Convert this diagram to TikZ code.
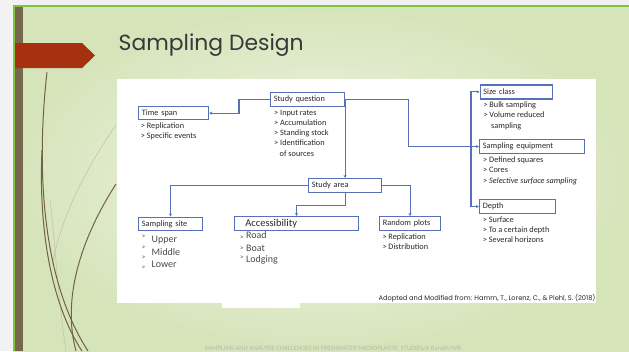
\documentclass[tikz,border=0pt]{standalone}
\usepackage{fontspec}
\setmainfont{Carlito}
\newfontfamily\titlefont{Poppins}
\usetikzlibrary{arrows.meta}
\definecolor{boxblue}{RGB}{86,112,186}
\definecolor{txt}{RGB}{40,40,40}
\definecolor{graytxt}{RGB}{75,75,75}
\definecolor{borderg}{RGB}{128,194,66}
\definecolor{barbrown}{RGB}{118,104,76}
\definecolor{arrowred}{RGB}{165,49,16}
\definecolor{curvebrown}{RGB}{112,98,72}
\definecolor{slidein}{RGB}{244,246,236}
\definecolor{slideout}{RGB}{214,228,186}
\definecolor{outside}{RGB}{242,242,242}
\begin{document}
\begin{tikzpicture}[x=1bp,y=-1bp,
  box/.style={draw=boxblue,line width=1.2bp,fill=white,anchor=north west,
    inner xsep=3.3bp,inner ysep=0bp,align=left,text=txt,
    font=\fontsize{8.3}{10}\selectfont},
  lst/.style={anchor=north west,inner sep=0bp,align=left,text=txt,
    font=\fontsize{8.3}{10.2}\selectfont},
  bigw/.style={anchor=base west,inner sep=0bp,text=graytxt,
    font=\fontsize{10}{12}\selectfont},
  gtm/.style={anchor=base west,inner sep=0bp,text=graytxt,
    font=\fontsize{7}{8}\selectfont},
  conn/.style={draw=boxblue,line width=1.1bp,-{Stealth[length=3bp,width=3bp]}},
  deco/.style={draw=curvebrown,line width=1bp},
  decolight/.style={draw=curvebrown!35!slidein,line width=0.6bp}]
\useasboundingbox (0,0) rectangle (629,351);
% background
\fill[outside] (0,0) rectangle (629,351);
\shade[inner color=slidein,outer color=slideout] (13,5) rectangle (629,351);
\fill[borderg] (13,5) rectangle (629,7);
\fill[borderg] (13,5) rectangle (15,351);
\fill[barbrown] (15,7) rectangle (23,351);
\fill[arrowred] (15,43) -- (82,43) -- (95,55.5) -- (82,68) -- (15,68) -- cycle;
% decorative curves
\draw[decolight] (116,125) .. controls (85,170) and (62,215) .. (52,265);
\draw[decolight] (50,200) .. controls (55,240) and (58,300) .. (66,351);
\draw[deco] (47,72) .. controls (36,170) and (42,280) .. (88,351);
\draw[deco] (42,150) .. controls (38,240) and (55,310) .. (82,351);
\draw[deco] (116,184) .. controls (80,240) and (62,300) .. (76,351);
% title
\node[anchor=base west,inner sep=0bp,text=black!78] (title) at (118.5,50)
  {\resizebox{185bp}{!}{\titlefont Sampling Design}};
% white panel
\fill[white] (116.5,79) rectangle (596,303);
\fill[white] (222,303) rectangle (300,308);
% boxes
\node[box,minimum width=74bp,minimum height=14bp,text width=67.4bp] (sq) at (270,92) {Study question};
\node[box,minimum width=70bp,minimum height=13bp,text width=63.4bp] (ts) at (138,106) {Time span};
\node[box,minimum width=72.5bp,minimum height=14bp,text width=65.9bp] (sc) at (479.5,84.3) {Size class};
\node[box,minimum width=105bp,minimum height=14bp,text width=98.4bp] (se) at (479,139) {Sampling equipment};
\node[box,minimum width=76bp,minimum height=14bp,text width=69.4bp] (dp) at (479,199) {Depth};
\node[box,minimum width=73bp,minimum height=14bp,text width=66.4bp] (sa) at (308,178) {Study area};
\node[box,minimum width=64bp,minimum height=13.5bp,text width=57.4bp] (ss) at (138,216.5) {Sampling site};
\node[box,minimum width=124bp,minimum height=14bp,text width=117.4bp,font=\fontsize{10.5}{12}\selectfont] (ac) at (234,216) {\hspace{7.5bp}Accessibility};
\node[box,minimum width=61bp,minimum height=14bp,text width=54.4bp] (rp) at (379,216) {Random plots};
% lists
\node[lst] (tsl) at (140.7,121.5) {\rule{0pt}{7bp}> Replication\\> Specific events};
\node[lst] (sql) at (274,108.2) {\rule{0pt}{7bp}> Input rates\\> Accumulation\\> Standing stock\\> Identification\\\hspace{5.5bp}of sources};
\node[lst] (scl) at (483.3,100.5) {\rule{0pt}{7bp}> Bulk sampling\\> Volume reduced\\\hspace{7.7bp}sampling};
\node[lst] (sel) at (483,155.5) {\rule{0pt}{7bp}> Defined squares\\> Cores\\> \textit{Selective surface sampling}};
\node[lst] (dpl) at (482.7,214.8) {\rule{0pt}{7bp}> Surface\\> To a certain depth\\> Several horizons};
\node[lst] (rpl) at (382.3,232.2) {\rule{0pt}{7bp}> Replication\\> Distribution};
% sampling site items
\node[gtm] (g1) at (141.7,238.5) {>};
\node[gtm] (g2) at (141.7,249.2) {>};
\node[gtm] (g3) at (141.7,259.2) {>};
\node[gtm] (g4) at (141.7,269.4) {>};
\node[bigw] (u1) at (151.5,242.7) {Upper};
\node[bigw] (u2) at (151.5,255) {Middle};
\node[bigw] (u3) at (151.5,267.3) {Lower};
% accessibility items
\node[gtm] (h1) at (240,239.4) {>};
\node[gtm] (h2) at (240,250.2) {>};
\node[gtm] (h3) at (240,259.6) {>};
\node[bigw] (a1) at (246,238.3) {Road};
\node[bigw] (a2) at (246,251) {Boat};
\node[bigw] (a3) at (246,262) {Lodging};
% connectors
\draw[conn] (sq.west) -- ++(-31,0) |- (ts.east);
\draw[conn] (sq.east) -- ++(63,0) |- (se.west);
\draw[conn] (sa.north |- sq.east) -- (sa.north);
\draw[draw=boxblue,line width=1.1bp,{Stealth[length=3bp,width=3bp]}-{Stealth[length=3bp,width=3bp]}] (sc.west) -- ++(-8.5,0) |- (dp.west);
\draw[conn] (sa.west) -| (ss.north);
\draw[conn] (sa.south) -- ++(0,12.5) -| (ac.north);
\draw[conn] (sa.east) -| (rp.north);
% citation and footer
\node[anchor=base west,inner sep=0bp,text=txt] (cite) at (378.3,300.5)
  {\resizebox{217bp}{!}{\titlefont Adopted and Modified from: Hamm, T., Lorenz, C., \& Piehl, S. (2018)}};
\node[anchor=base,inner sep=0bp,text=black!25!slidein] (foot) at (333,350.5)
  {\resizebox{256bp}{!}{SAMPLING AND ANALYSIS CHALLENGES IN FRESHWATER MICROPLASTIC STUDIES/A Barath/WB}};
\end{tikzpicture}
\end{document}
